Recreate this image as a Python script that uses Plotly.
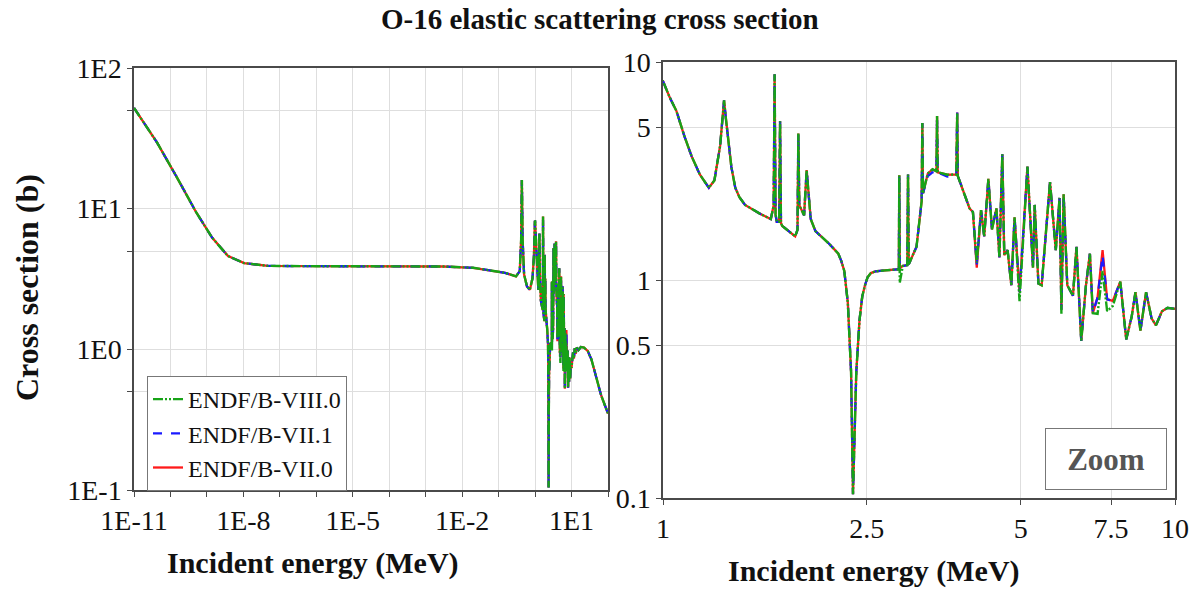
import plotly.graph_objects as go

# ---------------- data ----------------
energy_mev = [
    1e-11, 4.3e-11, 1.5e-10, 5.1e-10, 1.4e-9, 3.8e-9, 1.05e-8, 4.7e-8, 1e-6, 1e-4,
    3e-3, 2e-2, 6e-2, 0.15, 0.3, 0.38, 0.415, 0.434, 0.455, 0.5, 0.6, 0.72, 0.85,
    0.93, 0.97, 0.99,
    1.0, 1.03, 1.062, 1.10, 1.137, 1.18, 1.229, 1.26, 1.293, 1.305, 1.316, 1.327,
    1.339, 1.36, 1.384, 1.41, 1.446, 1.50, 1.549, 1.624,
    1.645, 1.652, 1.659, 1.668, 1.686, 1.693, 1.700, 1.71, 1.812, 1.831, 1.838, 1.846,
    1.886, 1.908, 1.943, 1.985, 2.05, 2.108, 2.15, 2.2, 2.23, 2.26, 2.296, 2.33, 2.35,
    2.385, 2.42, 2.45, 2.48, 2.51, 2.547, 2.6, 2.68, 2.87, 2.888, 2.894, 2.90, 2.94,
    3.0, 3.01, 3.02, 3.127, 3.16, 3.2,
    3.21, 3.22, 3.29, 3.36, 3.42, 3.43, 3.44, 3.59, 3.74, 3.755, 3.765, 3.84, 3.97,
    4.03, 4.1, 4.18, 4.24, 4.32, 4.39, 4.48, 4.54, 4.60, 4.64, 4.71, 4.79, 4.86,
    4.97, 5.15, 5.28, 5.32, 5.41, 5.49, 5.70, 5.85, 5.95, 6.0, 6.06, 6.16, 6.32,
    6.42, 6.56, 6.70, 6.82, 6.91, 7.06, 7.22, 7.37, 7.56, 7.82, 8.03, 8.23, 8.37,
    8.56, 8.78, 9.0, 9.18, 9.43, 9.67, 10.0,
    10.5, 11.0, 11.6, 12.3, 13.0, 14.0, 15.5, 18.0, 22.0, 28.0, 35.0, 47.0, 65.0, 100.0,
]

xs_endf_b_vii0 = [
    52, 29.5, 16.7, 9.4, 6.2, 4.6, 4.1, 3.92, 3.9, 3.9,
    3.88, 3.8, 3.65, 3.5, 3.3, 3.6, 6.0, 16.0, 6.0, 3.4, 2.8, 2.65, 3.2,
    4.6, 6.8, 8.2,
    8.17, 6.9, 5.97, 4.6, 3.70, 3.05, 2.65, 2.86, 4.13, 5.3, 6.67, 5.5,
    4.45, 3.3, 2.65, 2.4, 2.21, 2.1, 2.01, 1.905,
    2.2, 8.79, 2.0, 1.85, 1.85, 5.35, 1.82, 1.77, 1.585, 1.7, 4.70, 2.2,
    1.98, 3.19, 1.905, 1.675, 1.57, 1.47, 1.40, 1.32, 1.22, 1.10, 0.787, 0.377, 0.104,
    0.377, 0.655, 0.84, 0.946, 1.03, 1.076, 1.095, 1.104, 1.117, 1.12, 3.02, 1.13, 1.16,
    1.17, 3.05, 1.18, 1.42, 1.8, 2.3,
    5.25, 2.5, 3.08, 3.22, 3.15, 5.65, 3.12, 3.04, 3.05, 5.86, 3.0, 2.65, 2.13,
    2.05, 1.14, 2.09, 1.585, 2.91, 1.706, 2.13, 1.27, 3.77, 1.3, 1.37, 0.946, 1.94,
    0.879, 3.31, 1.14, 2.21, 0.964, 0.946, 2.81, 1.37, 2.38, 0.731, 2.47, 0.946, 0.847,
    1.42, 0.525, 0.946, 1.32, 0.705, 0.832, 1.37, 0.816, 0.802, 0.982, 0.534, 0.679, 0.879,
    0.586, 0.879, 0.667, 0.62, 0.718, 0.745, 0.737,
    0.85, 0.95, 0.86, 1.02, 0.93, 1.03, 0.99, 1.04, 1.03, 0.97, 0.85, 0.64, 0.47, 0.35,
]

# points where the newer evaluations differ from ENDF/B-VII.0 (energy in MeV -> barns)
vii1_changes = {3.29: 3.0, 3.36: 3.12, 3.59: 2.98, 7.22: 1.3, 4.1: 1.18}
viii0_changes = {2.90: 0.97, 4.1: 1.2, 4.97: 0.80, 6.0: 0.70, 7.06: 0.70,
                 7.22: 1.10, 7.37: 0.72, 7.56: 0.76}

xs_endf_b_vii1 = [vii1_changes.get(e, v) for e, v in zip(energy_mev, xs_endf_b_vii0)]
xs_endf_b_viii0 = [viii0_changes.get(e, v) for e, v in zip(energy_mev, xs_endf_b_vii0)]

left_x_ticks = [10.0 ** k for k in range(-11, 3)]
left_x_labels = ["1E-11", "", "", "1E-8", "", "", "1E-5", "", "", "1E-2", "", "", "1E1", ""]
left_y_ticks = [0.1, 0.5, 1, 5, 10, 50, 100]
left_y_labels = ["1E-1", "", "1E0", "", "1E1", "", "1E2"]
right_x_ticks = [1, 2.5, 5, 7.5, 10]
right_x_labels = ["1", "2.5", "5", "7.5", "10"]
right_y_ticks = [0.1, 0.5, 1, 5, 10]
right_y_labels = ["0.1", "0.5", "1", "5", "10"]

# ---------------- figure ----------------
W, H = 1198, 592
FONT = "Liberation Serif"


def fx(p):
    return p / W


def fy(p):
    return 1 - p / H


series = [
    ("ENDF/B-VII.0", xs_endf_b_vii0, "#ff1a1a", "solid", 3, 2.3),
    ("ENDF/B-VII.1", xs_endf_b_vii1, "#1a1aff", "dash", 2, 2.3),
    ("ENDF/B-VIII.0", xs_endf_b_viii0, "#17a317", "10px,2px,2px,2px,2px,2px", 1, 2.4),
]

fig = go.Figure()
for name, ys, color, dash, rank, width in series:
    for suffix, show in (("", True), ("2", False)):
        fig.add_trace(go.Scatter(
            x=energy_mev, y=ys, mode="lines", name=name,
            line=dict(color=color, width=width, dash=dash),
            xaxis="x" + suffix, yaxis="y" + suffix,
            showlegend=show, legendrank=rank,
        ))

axis_common = dict(
    type="log", showgrid=True, gridcolor="#dedede", gridwidth=1,
    showline=True, linecolor="#4a4a4a", linewidth=1.5, mirror=True,
    ticks="outside", ticklen=5, tickcolor="#4a4a4a",
    tickfont=dict(family=FONT, size=28, color="#111"),
    zeroline=False, automargin=False, tickmode="array",
)

fig.update_layout(
    width=W, height=H,
    margin=dict(l=0, r=0, t=0, b=0),
    paper_bgcolor="white", plot_bgcolor="white",
    xaxis=dict(axis_common, domain=[fx(134), fx(608)], range=[-11, 2],
               tickvals=left_x_ticks, ticktext=left_x_labels, anchor="y"),
    yaxis=dict(axis_common, domain=[fy(490), fy(68)], range=[-1, 2],
               tickvals=left_y_ticks, ticktext=left_y_labels, anchor="x"),
    xaxis2=dict(axis_common, domain=[fx(663), fx(1175)], range=[0, 1],
                tickvals=right_x_ticks, ticktext=right_x_labels, anchor="y2"),
    yaxis2=dict(axis_common, domain=[fy(498), fy(62)], range=[-1, 1],
                tickvals=right_y_ticks, ticktext=right_y_labels, anchor="x2"),
    legend=dict(
        x=fx(147), y=fy(376), xanchor="left", yanchor="top",
        bgcolor="white", bordercolor="#777", borderwidth=1,
        font=dict(family=FONT, size=24, color="#111"),
        traceorder="normal", tracegroupgap=0,
    ),
    showlegend=True,
)

annotations = [
    dict(text="<b>O-16 elastic scattering cross section</b>", x=fx(600), y=fy(19),
         font=dict(family=FONT, size=29, color="#111")),
    dict(text="<b>Cross section (b)</b>", x=fx(27), y=fy(288), textangle=-90,
         font=dict(family=FONT, size=32, color="#111")),
    dict(text="<b>Incident energy (MeV)</b>", x=fx(313), y=fy(563),
         font=dict(family=FONT, size=30, color="#111")),
    dict(text="<b>Incident energy (MeV)</b>", x=fx(874), y=fy(571),
         font=dict(family=FONT, size=30, color="#111")),
    dict(text="<b>Zoom</b>", x=fx(1106), y=fy(459), width=120, height=60,
         bordercolor="#777", borderwidth=1, borderpad=0, bgcolor="white",
         font=dict(family=FONT, size=31, color="#555")),
]
for a in annotations:
    a.update(xref="paper", yref="paper", showarrow=False,
             xanchor="center", yanchor="middle")
fig.update_layout(annotations=annotations)

fig.write_html("out.html",
               config={"displayModeBar": False},
               post_script="document.body.style.margin='0px';"
                           "document.body.style.overflow='hidden';")
